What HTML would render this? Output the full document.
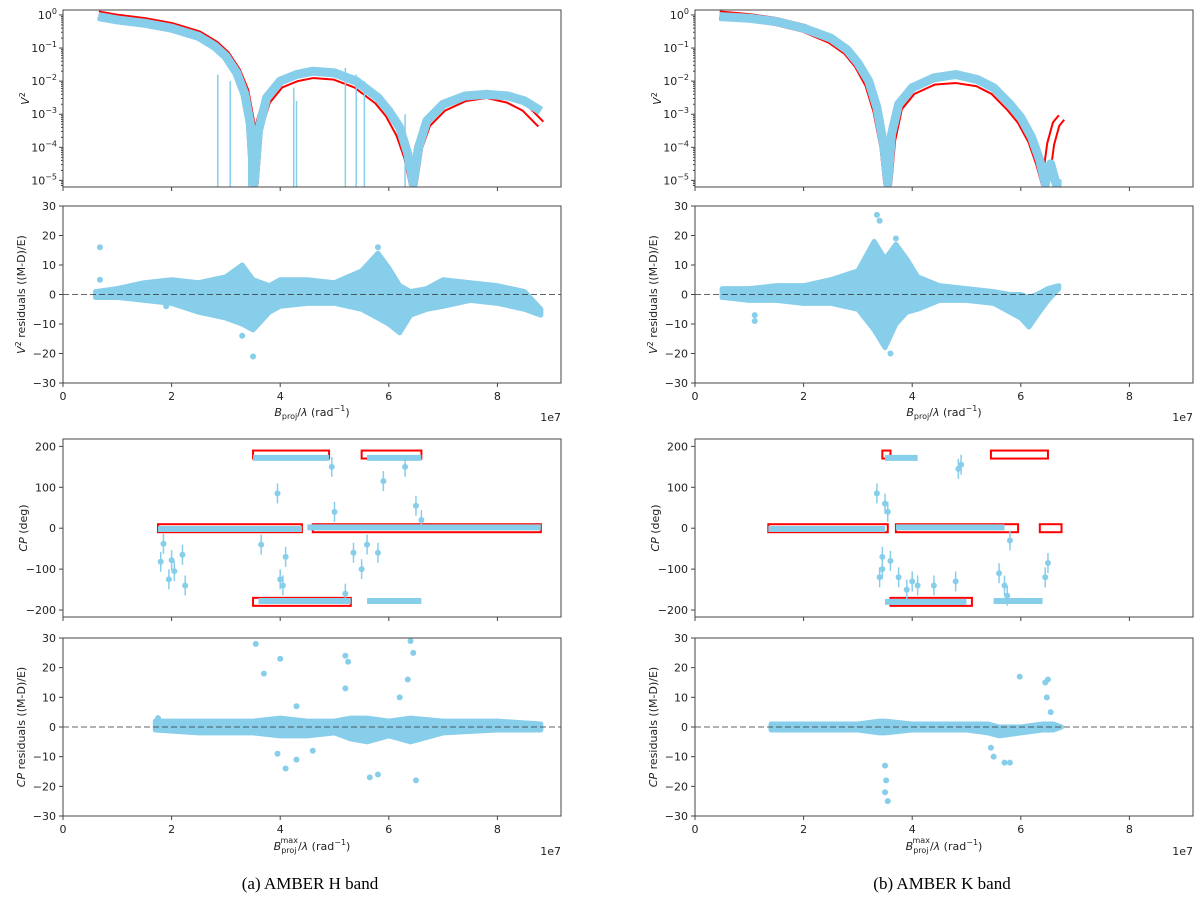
<!DOCTYPE html>
<html><head><meta charset="utf-8">
<style>
body{margin:0;background:#fff;}
svg{display:block;font-family:"DejaVu Sans","Liberation Sans",sans-serif;}
.cap{font-family:"Liberation Serif",serif;font-size:17px;}
</style></head>
<body>
<svg id="fig" width="1200" height="898" viewBox="0 0 1200 898" xmlns="http://www.w3.org/2000/svg">
<text class="cap" x="310" y="889" text-anchor="middle">(a) AMBER H band</text>
<text class="cap" x="942" y="889" text-anchor="middle">(b) AMBER K band</text>
</svg>
<script>
// ---------- data (x in units of 1e7 rad^-1) ----------
const hV2ModelX=[0.65,1.0,1.5,2.0,2.5,2.8,3.0,3.2,3.35,3.45,3.52,3.6,3.75,4.0,4.3,4.6,5.0,5.4,5.8,6.0,6.2,6.35,6.45,6.55,6.7,7.0,7.4,7.8,8.2,8.5,8.8];
const hV2ModelY=[0,-0.1,-0.2,-0.35,-0.6,-0.9,-1.2,-1.7,-2.3,-3.2,-5.1,-3.4,-2.6,-2.1,-1.9,-1.8,-1.85,-2.1,-2.6,-3.0,-3.6,-4.3,-5.1,-4.0,-3.3,-2.8,-2.5,-2.4,-2.55,-2.8,-3.3];
const hV2DataY=[-0.05,-0.15,-0.25,-0.4,-0.65,-0.95,-1.25,-1.75,-2.4,-3.3,-5.1,-3.5,-2.5,-2.0,-1.8,-1.7,-1.75,-2.0,-2.5,-2.9,-3.4,-4.2,-5.1,-4.0,-3.2,-2.7,-2.45,-2.4,-2.45,-2.6,-2.9];
const hV2SpikeX=[2.85,3.08,3.42,3.56,4.25,4.3,5.2,5.4,5.55,6.3];
const hV2SpikeTop=[-1.8,-2.0,-3.0,-3.3,-2.2,-2.6,-1.6,-1.8,-2.0,-3.0];
const kV2ModelX=[0.45,1.0,1.5,2.0,2.5,2.8,3.0,3.2,3.35,3.48,3.55,3.62,3.75,4.0,4.4,4.8,5.2,5.5,5.8,6.0,6.2,6.35,6.45,6.55,6.65,6.75];
const kV2ModelY=[0,-0.08,-0.2,-0.4,-0.75,-1.1,-1.5,-2.1,-2.9,-4.0,-5.1,-3.8,-2.8,-2.3,-2.0,-1.95,-2.05,-2.3,-2.8,-3.2,-3.8,-4.5,-5.1,-3.9,-3.3,-3.1];
const kV2DataY=[-0.05,-0.1,-0.2,-0.4,-0.7,-1.05,-1.45,-2.0,-2.8,-4.0,-5.1,-3.6,-2.7,-2.2,-1.9,-1.8,-1.95,-2.2,-2.7,-3.1,-3.7,-4.4,-5.1,-4.5,-5.1,-5.1];
const hResX=[0.6,1.0,1.5,2.0,2.5,3.0,3.3,3.5,3.8,4.0,4.5,5.0,5.5,5.8,6.0,6.2,6.4,6.7,7.0,7.5,8.0,8.5,8.8];
const hResUp=[1,2,4,5,4,6,10,5,3,5,5,4,8,14,9,3,1,2,5,4,3,1,-5];
const hResLo=[-1,-1,-2,-3,-6,-8,-10,-12,-6,-4,-3,-3,-5,-8,-10,-13,-7,-5,-4,-2,-3,-5,-7];
const hResOutX=[0.68,0.68,3.5,3.3,5.8,1.9];
const hResOutY=[16,5,-21,-14,16,-4];
const kResX=[0.5,1.0,1.5,2.0,2.5,3.0,3.3,3.5,3.7,3.9,4.1,4.5,5.0,5.5,5.8,6.0,6.15,6.3,6.5,6.7];
const kResUp=[2,2,3,3,5,8,18,12,17,12,6,3,2,1,0,0,-1,0,2,3];
const kResLo=[-1,-2,-2,-3,-3,-5,-12,-18,-10,-6,-5,-2,-2,-3,-6,-8,-11,-7,-2,2];
const kResOutX=[3.35,3.4,3.7,1.1,3.6,1.1];
const kResOutY=[27,25,19,-9,-20,-7];
const hCPSegX0=[1.75,4.6,3.5,5.5,3.5];
const hCPSegX1=[4.4,8.8,4.9,6.6,5.3];
const hCPSegV=[0,0,180,180,-180];
const hCPPtX=[1.8,1.85,1.95,2.0,2.05,2.2,2.25,3.65,3.95,4.0,4.05,4.95,5.0,5.2,5.35,5.6,5.8,6.3,6.5,6.6,4.1,5.5,5.9];
const hCPPtY=[-82,-38,-125,-78,-105,-65,-140,-40,85,-125,-140,150,40,-160,-60,-40,-60,150,55,20,-70,-100,115];
const hCPDataX0=[1.75,3.5,4.5,3.6,5.6,5.6];
const hCPDataX1=[4.4,4.9,8.8,5.3,6.6,6.6];
const hCPDataV=[-2,172,2,-178,172,-178];
const kCPSegX0=[1.35,3.7,6.35,3.45,5.45,3.6];
const kCPSegX1=[3.55,5.95,6.75,3.6,6.5,5.1];
const kCPSegV=[0,0,0,180,180,-180];
const kCPDataX0=[1.35,3.7,3.5,5.5,3.5];
const kCPDataX1=[3.5,5.7,4.1,6.4,5.0];
const kCPDataV=[-2,2,172,-178,-180];
const kCPPtX=[3.35,3.45,3.5,3.55,3.4,3.6,3.75,3.9,4.0,4.1,4.4,4.8,4.9,4.85,5.6,5.7,5.75,6.5,6.45,3.45,5.8];
const kCPPtY=[85,-70,60,40,-120,-80,-120,-150,-130,-140,-140,-130,155,145,-110,-140,-165,-85,-120,-100,-30];
const hCRX=[1.7,2.5,3.5,4.0,4.5,5.0,5.3,5.6,6.0,6.4,7.0,8.0,8.8];
const hCRUp=[2,2,2,3,2,2,3,3,2,3,2,2,1];
const hCRLo=[-1,-2,-2,-3,-3,-2,-4,-5,-3,-5,-2,-1,-1];
const hCROutX=[3.55,3.7,4.0,4.1,4.3,5.2,5.25,5.2,6.4,6.45,6.35,5.65,5.8,3.95,4.3,6.5,4.6,6.2,1.75];
const hCROutY=[28,18,23,-14,7,24,22,13,29,25,16,-17,-16,-9,-11,-18,-8,10,3];
const kCRX=[1.4,2.0,3.0,3.4,3.5,4.0,5.0,5.4,5.6,6.0,6.4,6.6,6.75];
const kCRUp=[1,1,1,2,2,1,1,1,0,0,1,1,0];
const kCRLo=[-1,-1,-1,-2,-2,-1,-1,-2,-3,-2,-1,-1,0];
const kCROutX=[3.5,3.52,3.5,3.55,5.45,5.5,5.7,5.8,5.98,6.45,6.5,6.48,6.55];
const kCROutY=[-13,-18,-22,-25,-7,-10,-12,-12,17,15,16,10,5];
const xTicks=[0,2,4,6,8];

// ---------- drawing ----------
const NS="http://www.w3.org/2000/svg";
const svg=document.getElementById('fig');
const BLUE="#87ceeb", RED="#ff0000", AX="#444";
function el(tag,attrs,parent){const e=document.createElementNS(NS,tag);for(const k in attrs)e.setAttribute(k,attrs[k]);(parent||svg).appendChild(e);return e;}
const UNIT=54.3;
function mkPanel(x0,yTop,yBot,ymin,ymax,name){
  const g=el('g',{});
  
  
  const p={g,x0,x1:x0+498,yTop,yBot,ymin,ymax};
  p.X=v=>x0+v*UNIT;
  p.Y=v=>yBot-(v-ymin)/(ymax-ymin)*(yBot-yTop);
  const cp=el('clipPath',{id:name+'-clip'},g);
  el('rect',{x:x0,y:yTop,width:498,height:yBot-yTop},cp);
  p.d=el('g',{'clip-path':'url(#'+name+'-clip)'},g);
  return p;
}
function frame(p,showX){
  el('rect',{x:p.x0,y:p.yTop,width:498,height:p.yBot-p.yTop,fill:'none',stroke:AX,'stroke-width':1},p.g);
  xTicks.forEach(t=>{const x=p.X(t);el('line',{x1:x,x2:x,y1:p.yBot,y2:p.yBot+4,stroke:AX},p.g);
    if(showX){const tx=el('text',{x:x,y:p.yBot+17,'font-size':11,'text-anchor':'middle',fill:'#222'},p.g);tx.textContent=t;}});
}
function yTicksLin(p,ticks){ticks.forEach(t=>{const y=p.Y(t);el('line',{x1:p.x0-4,x2:p.x0,y1:y,y2:y,stroke:AX},p.g);
  const tx=el('text',{x:p.x0-7,y:y+4,'font-size':11,'text-anchor':'end',fill:'#222'},p.g);tx.textContent=t<0?'\u2212'+(-t):t;});}
function yLabel(p,html,name,off){const cy=(p.yTop+p.yBot)/2;const t=el('text',{x:0,y:0,'font-size':11,'text-anchor':'middle',fill:'#222',transform:`translate(${p.x0-off},${cy}) rotate(-90)`},p.g);
  t.innerHTML=html;}
function poly(p,xs,ys,attrs){el('polyline',Object.assign({points:xs.map((x,i)=>p.X(x)+','+p.Y(ys[i])).join(' '),fill:'none'},attrs),p.d);}
function band(p,xs,up,lo){const pts=xs.map((x,i)=>p.X(x)+','+p.Y(up[i])).concat(xs.map((x,i)=>p.X(x)+','+p.Y(lo[i])).reverse());
  el('polygon',{points:pts.join(' '),fill:BLUE,stroke:BLUE,'stroke-width':5,'stroke-linejoin':'round'},p.d);}
function pts(p,xs,ys,eb){xs.forEach((x,i)=>{if(eb)el('line',{x1:p.X(x),x2:p.X(x),y1:p.Y(ys[i])-eb,y2:p.Y(ys[i])+eb,stroke:BLUE,'stroke-width':1.5},p.d);
  el('circle',{cx:p.X(x),cy:p.Y(ys[i]),r:3,fill:BLUE},p.d);});}
function zeroLine(p){el('line',{x1:p.x0,x2:p.x1,y1:p.Y(0),y2:p.Y(0),stroke:'#333','stroke-dasharray':'6,3','stroke-width':0.8},p.g);}
function xLabel(p,y,sup){const t=el('text',{x:p.x0+249,y:y,'font-size':11,'text-anchor':'middle',fill:'#222'},p.g);
  t.innerHTML=`<tspan font-style="italic">B</tspan><tspan font-size="8" dy="3">proj</tspan>${sup?'<tspan font-size="8" dy="-10" dx="-16">max</tspan><tspan dy="7">':'<tspan dy="-3">'}/<tspan font-style="italic">λ</tspan> (rad<tspan font-size="8" dy="-5">−1</tspan><tspan dy="5">)</tspan></tspan>`;
  
  const e=el('text',{x:p.x1,y:y+5,'font-size':11,'text-anchor':'end',fill:'#222'},p.g);e.textContent='1e7';}
function v2Panel(x0,name,mx,my,dy){
  const p=mkPanel(x0,10,187,-5.2,0.15,name);
  poly(p,mx,my,{stroke:RED,'stroke-width':9,'stroke-linejoin':'round'});
  poly(p,mx,my,{stroke:'#fff','stroke-width':5,'stroke-linejoin':'round'});
  poly(p,mx,dy,{stroke:BLUE,'stroke-width':9,'stroke-linejoin':'round'});
  frame(p,false);
  for(let k=0;k>=-5;k--){const y=p.Y(k);el('line',{x1:p.x0-4,x2:p.x0,y1:y,y2:y,stroke:AX},p.g);
    for(let m=2;m<10;m++){const ym=p.Y(k-1+Math.log10(m));if(ym<p.yBot)el('line',{x1:p.x0-2,x2:p.x0,y1:ym,y2:ym,stroke:AX},p.g);}
    const t=el('text',{x:p.x0-6,y:y+4,'font-size':11,'text-anchor':'end',fill:'#222'},p.g);
    t.innerHTML=k===0?'10<tspan font-size="8" dy="-5">0</tspan>':'10<tspan font-size="8" dy="-5">\u2212'+(-k)+'</tspan>';}
  yLabel(p,'<tspan font-style="italic">V</tspan><tspan font-size="8" dy="-4">2</tspan>','y-axis-title-v2',34);
  return p;
}
function resPanel(x0,yTop,yBot,name,xs,up,lo,ox,oy,lbl,xl,sup){
  const p=mkPanel(x0,yTop,yBot,-30,30,name);
  band(p,xs,up,lo);pts(p,ox,oy,0);
  zeroLine(p);frame(p,true);yTicksLin(p,[-30,-20,-10,0,10,20,30]);
  yLabel(p,lbl,'y-axis-title-residuals',38);xLabel(p,xl,sup);return p;
}
function cpPanel(x0,name,sx0,sx1,sv,dx0,dx1,dv,px,py){
  const p=mkPanel(x0,439,617,-217,218,name);
  sx0.forEach((a,i)=>{el('rect',{x:p.X(a),y:p.Y(sv[i])-4,width:p.X(sx1[i])-p.X(a),height:8,fill:'#fff',stroke:RED,'stroke-width':2},p.d);});
  dx0.forEach((a,i)=>{el('line',{x1:p.X(a),x2:p.X(dx1[i]),y1:p.Y(dv[i]),y2:p.Y(dv[i]),stroke:BLUE,'stroke-width':6},p.d);});
  pts(p,px,py,10);
  frame(p,false);yTicksLin(p,[-200,-100,0,100,200]);
  yLabel(p,'<tspan font-style="italic">CP</tspan> (deg)','y-axis-title-cp',36);return p;
}
const resLbl='<tspan font-style="italic">V</tspan><tspan font-size="8" dy="-4">2</tspan><tspan dy="4"> residuals ((M-D)/E)</tspan>';
const cpResLbl='<tspan font-style="italic">CP</tspan> residuals ((M-D)/E)';
const p1=v2Panel(63,'h-v2-panel',hV2ModelX,hV2ModelY,hV2DataY);
hV2SpikeX.forEach((x,i)=>el('line',{x1:p1.X(x),x2:p1.X(x),y1:p1.Y(hV2SpikeTop[i]),y2:p1.yBot,stroke:BLUE,'stroke-width':1.5},p1.d));
resPanel(63,206,383,'h-v2-residuals-panel',hResX,hResUp,hResLo,hResOutX,hResOutY,resLbl,416,false);
cpPanel(63,'h-cp-panel',hCPSegX0,hCPSegX1,hCPSegV,hCPDataX0,hCPDataX1,hCPDataV,hCPPtX,hCPPtY);
resPanel(63,638,816,'h-cp-residuals-panel',hCRX,hCRUp,hCRLo,hCROutX,hCROutY,cpResLbl,850,true);
v2Panel(695,'k-v2-panel',kV2ModelX,kV2ModelY,kV2DataY);
resPanel(695,206,383,'k-v2-residuals-panel',kResX,kResUp,kResLo,kResOutX,kResOutY,resLbl,416,false);
cpPanel(695,'k-cp-panel',kCPSegX0,kCPSegX1,kCPSegV,kCPDataX0,kCPDataX1,kCPDataV,kCPPtX,kCPPtY);
resPanel(695,638,816,'k-cp-residuals-panel',kCRX,kCRUp,kCRLo,kCROutX,kCROutY,cpResLbl,850,true);
</script>
</body></html>
